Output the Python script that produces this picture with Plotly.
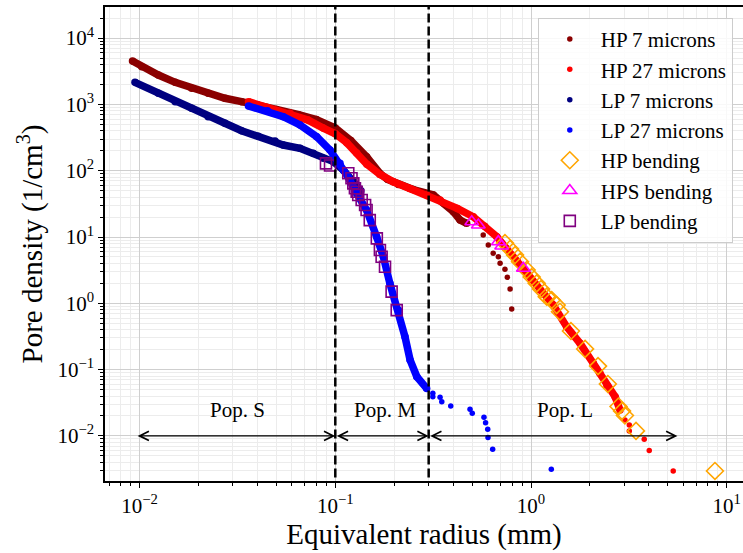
import numpy as np
import plotly.graph_objects as go

# ---------------- data ----------------
hp7_x = [0.0092, 0.01026, 0.01247, 0.0152, 0.01845, 0.0224, 0.0273, 0.0332, 0.04, 0.05, 0.065,
         0.08, 0.1, 0.12, 0.1445, 0.169, 0.185, 0.21, 0.25, 0.317, 0.36, 0.401, 0.434, 0.469,
         0.57, 0.605, 0.641, 0.681, 0.695, 0.736, 0.757, 0.782, 0.797]
hp7_y = [4520, 3700, 2775, 2150, 1750, 1470, 1236, 1100, 990, 840, 700,
         590, 440, 285, 163, 91, 74, 62, 52, 43, 32, 24.1, 18, 16.1,
         10.7, 7.57, 5.67, 5.05, 4.01, 3.26, 2.47, 1.64, 0.82]
hp7_dense = 24

hp27_x = [0.036, 0.045, 0.0587, 0.0725, 0.0868, 0.1, 0.1143, 0.1286, 0.145, 0.169, 0.1977, 0.24,
          0.293, 0.343, 0.42, 0.507, 0.58, 0.668, 0.75, 0.85, 0.914, 1.0, 1.112, 1.30, 1.52,
          1.78, 2.08, 2.25, 2.44, 2.69, 2.85,
          3.02, 3.18, 3.18, 3.79, 4.02, 5.33]
hp27_y = [1099, 900, 734, 580, 440, 360, 265, 185, 125, 88, 68, 54,
          43, 36, 27, 20.2, 14.5, 10.1, 6.7, 4.3, 3.2, 2.35, 1.59, 0.94, 0.444,
          0.249, 0.1245, 0.0879, 0.0586, 0.039, 0.0246,
          0.0174, 0.0146, 0.0119, 0.0089, 0.006, 0.00296]
hp27_dense = 31

lp7_x = [0.00947, 0.01247, 0.0152, 0.01845, 0.0224, 0.0273, 0.0332, 0.0404, 0.0492, 0.0542,
         0.066, 0.0772, 0.0868, 0.0977, 0.11, 0.124, 0.135]
lp7_y = [2155, 1470, 1099, 873, 653, 519, 400, 330, 280, 244,
         218, 183, 154, 137, 102, 68, 50]

lp27_x = [0.036, 0.045, 0.0542, 0.066, 0.0803, 0.094, 0.1057, 0.116, 0.1286, 0.1445, 0.1626,
          0.176, 0.19, 0.21, 0.227, 0.241, 0.261, 0.293,
          0.315, 0.315, 0.343, 0.35, 0.389, 0.488, 0.501, 0.575, 0.586, 0.601, 0.603, 0.637, 1.27]
lp27_y = [946, 800, 653, 489, 326, 205, 129, 81, 45.6, 25.5, 10.1,
          5.05, 2.0, 0.79, 0.313, 0.14, 0.078, 0.052,
          0.044, 0.039, 0.0382, 0.0328, 0.0283, 0.0252, 0.0219, 0.0191, 0.0158, 0.0126, 0.0095, 0.0063,
          0.00313]
lp27_dense = 18

hpb_x = [0.736, 0.782, 0.829, 0.879, 0.951, 1.008, 1.069, 1.125, 1.203, 1.276, 1.352, 1.406,
         1.60, 1.89, 2.20, 2.47, 2.80, 2.92, 3.02, 3.44, 8.71]
hpb_y = [8.1, 6.6, 5.35, 4.24, 3.18, 2.49, 2.0, 1.64, 1.26, 1.12, 0.94, 0.747,
         0.382, 0.205, 0.113, 0.0607, 0.0278, 0.0238, 0.0203, 0.0119, 0.00296]

hpsb_x = [0.498, 0.538, 0.681, 0.708, 0.914]
hpsb_y = [17, 15.2, 8.5, 7.3, 3.37]

lpb_x = [0.0896, 0.094, 0.1165, 0.121, 0.1236, 0.126, 0.1286, 0.131, 0.1364, 0.142, 0.1445,
         0.150, 0.163, 0.169, 0.1725, 0.1795, 0.194, 0.206]
lpb_y = [129, 120, 91.4, 76.8, 64.5, 54.3, 48.2, 43, 36.1, 30.4, 25.5,
         18, 9.55, 6.37, 5.05, 3.56, 1.50, 0.79]

boundaries = [0.1, 0.3]
pop_labels = ["Pop. S", "Pop. M", "Pop. L"]
pop_label_x = [0.0316, 0.18, 1.5]
pop_label_y = 0.025
arrow_spans = [(0.0096, 0.1), (0.1, 0.3), (0.3, 5.6)]
arrow_y = 0.01

xtick_vals = [0.01, 0.1, 1, 10]
xtick_text = ["10<sup>\u22122</sup>", "10<sup>\u22121</sup>", "10<sup>0</sup>", "10<sup>1</sup>"]
ytick_vals = [1e-2, 1e-1, 1, 10, 100, 1e3, 1e4]
ytick_text = ["10<sup>\u22122</sup>", "10<sup>\u22121</sup>", "10<sup>0</sup>", "10<sup>1</sup>",
              "10<sup>2</sup>", "10<sup>3</sup>", "10<sup>4</sup>"]

# ---------------- figure ----------------
FONT = "Liberation Serif, DejaVu Serif, serif"
fig = go.Figure()

dense_sets = [
    (hp7_x[:hp7_dense], hp7_y[:hp7_dense], "#8B0000"),
    (hp27_x[:hp27_dense], hp27_y[:hp27_dense], "#FF0000"),
    (lp7_x, lp7_y, "#000080"),
    (lp27_x[:lp27_dense], lp27_y[:lp27_dense], "#0000FF"),
]
series = [
    ("HP 7 microns", hp7_x, hp7_y, "#8B0000"),
    ("HP 27 microns", hp27_x, hp27_y, "#FF0000"),
    ("LP 7 microns", lp7_x, lp7_y, "#000080"),
    ("LP 27 microns", lp27_x, lp27_y, "#0000FF"),
]
for (dx, dy, col), (name, sx, sy, _) in zip(dense_sets, series):
    fig.add_trace(go.Scatter(x=dx, y=dy, mode="lines+markers", showlegend=False,
                             line=dict(color=col, width=7.5),
                             marker=dict(color=col, size=7.5), hoverinfo="skip"))
    fig.add_trace(go.Scatter(x=sx, y=sy, mode="markers", name=name,
                             marker=dict(color=col, size=5.5)))

fig.add_trace(go.Scatter(x=hpb_x, y=hpb_y, mode="markers", name="HP bending",
                         marker=dict(symbol="diamond-open", size=13, color="#FFA500",
                                     line=dict(width=1.6, color="#FFA500"))))
fig.add_trace(go.Scatter(x=hpsb_x, y=hpsb_y, mode="markers", name="HPS bending",
                         marker=dict(symbol="triangle-up-open", size=12, color="#FF00FF",
                                     line=dict(width=1.6, color="#FF00FF"))))
fig.add_trace(go.Scatter(x=lpb_x, y=lpb_y, mode="markers", name="LP bending",
                         marker=dict(symbol="square-open", size=11, color="#800080",
                                     line=dict(width=1.6, color="#800080"))))

for b in boundaries:
    fig.add_trace(go.Scatter(x=[b, b], y=[1e-4, 1e6], mode="lines", showlegend=False,
                             line=dict(color="black", width=2.5, dash="9px,4px"),
                             hoverinfo="skip"))

for (a0, a1) in arrow_spans:
    fig.add_annotation(x=np.log10(a1), y=np.log10(arrow_y), ax=np.log10(a0), ay=np.log10(arrow_y),
                       xref="x", yref="y", axref="x", ayref="y", text="",
                       showarrow=True, arrowside="end+start", arrowhead=5, startarrowhead=5,
                       arrowsize=1.3, startarrowsize=1.3, arrowwidth=1.4, arrowcolor="black",
                       standoff=0, startstandoff=0)
for lab, lx in zip(pop_labels, pop_label_x):
    fig.add_annotation(x=np.log10(lx), y=np.log10(pop_label_y), text=lab, showarrow=False,
                       xref="x", yref="y", font=dict(family=FONT, size=21, color="black"))

x_minor = [m * 10.0 ** e for e in range(-3, 2) for m in range(2, 10)]
y_minor = [m * 10.0 ** e for e in range(-3, 5) for m in range(2, 10)]

fig.update_layout(
    width=743, height=553,
    margin=dict(l=105, r=0, t=7, b=72),
    paper_bgcolor="white", plot_bgcolor="white",
    font=dict(family=FONT, size=20, color="black"),
    showlegend=True,
    legend=dict(x=0.984, y=0.977, xanchor="right", yanchor="top",
                bgcolor="rgba(255,255,255,0.85)", bordercolor="#cccccc", borderwidth=1,
                font=dict(family=FONT, size=21, color="black"), itemwidth=52),
    xaxis=dict(type="log", range=[-2.1768, 1.0833], tickmode="array",
               tickvals=xtick_vals, ticktext=xtick_text,
               ticks="outside", ticklen=5, tickwidth=1, tickcolor="black",
               showline=True, linecolor="black", linewidth=1.5, mirror=True,
               showgrid=True, gridcolor="#cfcfcf", gridwidth=1, zeroline=False,
               tickfont=dict(family=FONT, size=21),
               minor=dict(tickmode="array", tickvals=x_minor, ticks="outside", ticklen=3,
                          tickcolor="black", showgrid=True, gridcolor="#ececec", gridwidth=1),
               title=dict(text="Equivalent radius (mm)", font=dict(family=FONT, size=29),
                          standoff=6)),
    yaxis=dict(type="log", range=[-2.680, 4.469], tickmode="array",
               tickvals=ytick_vals, ticktext=ytick_text,
               ticks="outside", ticklen=5, tickwidth=1, tickcolor="black",
               showline=True, linecolor="black", linewidth=1.5, mirror=False,
               showgrid=True, gridcolor="#cfcfcf", gridwidth=1, zeroline=False,
               tickfont=dict(family=FONT, size=21),
               minor=dict(tickmode="array", tickvals=y_minor, ticks="outside", ticklen=3,
                          tickcolor="black", showgrid=True, gridcolor="#ececec", gridwidth=1),
               title=dict(text="Pore density (1/cm<sup>3</sup>)", font=dict(family=FONT, size=29),
                          standoff=6)),
)

fig.write_html("out.html")
